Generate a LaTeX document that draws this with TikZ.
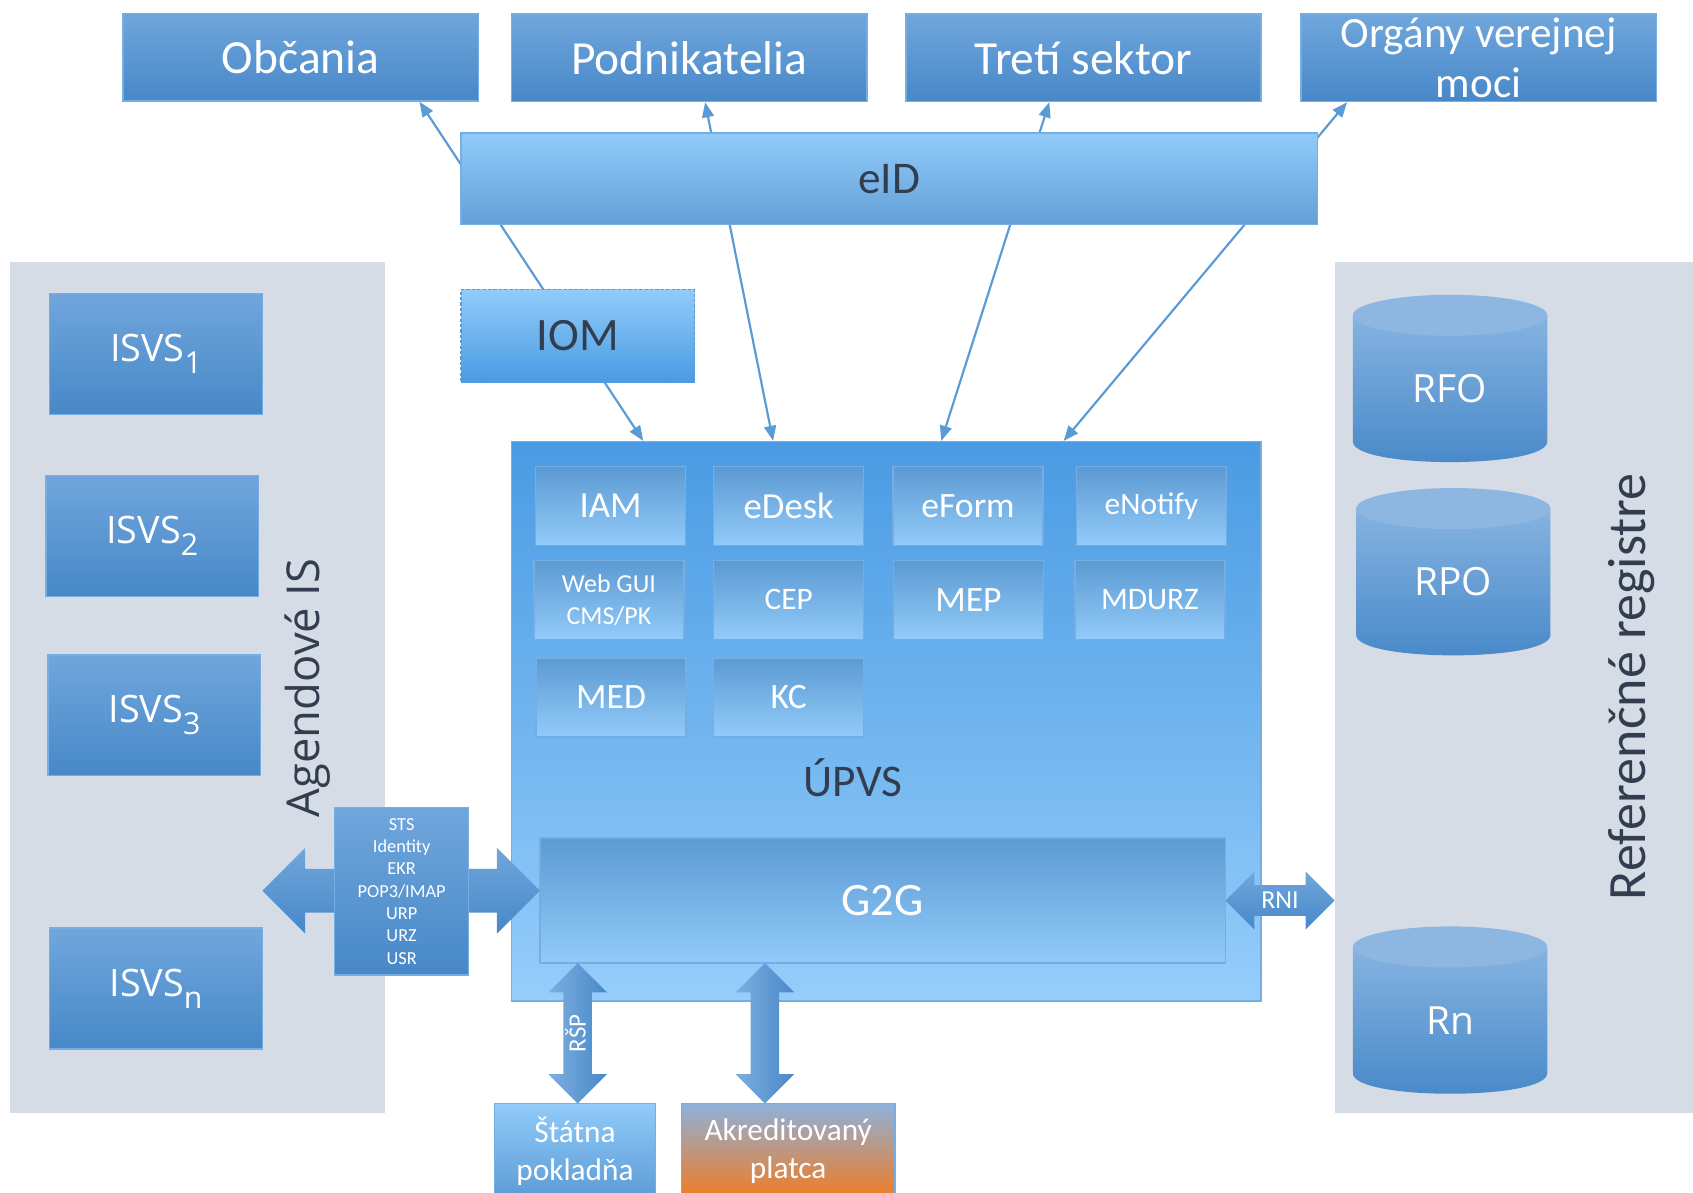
\documentclass[tikz,border=0pt]{standalone}
\usepackage{fontspec}
\setmainfont{Carlito}
\newfontfamily\opensans{Open Sans}
\usetikzlibrary{arrows.meta,shapes.arrows,calc}

\definecolor{boxtop}{HTML}{70A6DC}
\definecolor{boxbot}{HTML}{4788C8}
\definecolor{boxline}{HTML}{76AEE3}
\definecolor{lighttop}{HTML}{92CBFA}
\definecolor{midblue}{HTML}{5B9BD5}
\definecolor{upvstop}{HTML}{4A9BE3}
\definecolor{upvsbot}{HTML}{96CDFB}
\definecolor{subtop}{HTML}{5C9AD3}
\definecolor{subbot}{HTML}{92CBF9}
\definecolor{panelgray}{HTML}{D6DCE5}
\definecolor{darkslate}{HTML}{323E4F}
\definecolor{linkblue}{HTML}{5B9BD5}
\definecolor{capblue}{HTML}{8DB7E1}
\definecolor{platcatop}{HTML}{8DB2DA}
\definecolor{orangebot}{HTML}{F07B22}

\tikzset{
  topbox/.style={draw=boxline, line width=1.3pt, top color=boxtop, bottom color=boxbot,
    text=white, inner sep=0, minimum width=329, minimum height=81,
    font=\fontsize{44}{47}\selectfont},
  isvsbox/.style={draw=boxline, line width=1.3pt, top color=boxtop, bottom color=boxbot,
    text=white, inner sep=0, minimum width=197, minimum height=112,
    font=\opensans\fontsize{35}{40}\selectfont},
  subbox/.style={draw=boxline, line width=1.3pt, top color=subtop, bottom color=subbot,
    text=white, inner sep=0, minimum width=139, minimum height=73,
    font=\fontsize{32}{30}\selectfont},
  panel/.style={fill=panelgray, inner sep=0},
  link/.style={draw=linkblue, line width=2pt,
    {Triangle[length=14pt,width=11pt]}-{Triangle[length=14pt,width=11pt]}},
  blockarrow/.style={shape=double arrow, top color=boxtop, bottom color=boxbot,
    text=white, inner sep=0, double arrow tip angle=90},
  uparrow/.style={blockarrow, rotate=90, left color=boxtop!90!white, right color=boxbot,
    minimum height=130, minimum width=54, double arrow head extend=14},
  darklabel/.style={text=darkslate, font=\fontsize{42}{48}\selectfont}
}

% ISVS with a low subscript
\newcommand{\isvs}[1]{ISVS\raisebox{-11pt}{\fontsize{28}{30}\selectfont #1}}

% register cylinder: name, x centre, y top, text
\newcommand{\regcyl}[4]{%
  \path[top color=boxtop!85!white, bottom color=boxbot]
    (#2-90,#3+19) -- (#2-90,#3+136)
    .. controls (#2-90,#3+161.3) and (#2+90,#3+161.3) .. (#2+90,#3+136)
    -- (#2+90,#3+19) -- cycle;
  \fill[capblue] (#2,#3+19) ellipse [x radius=90, y radius=19];
  \node[text=white, font=\opensans\fontsize{36}{40}\selectfont] (#1) at (#2,#3+87) {#4};
}

\begin{document}
\begin{tikzpicture}[x=1pt, y=-1pt]
\useasboundingbox (0,0) rectangle (1568,1104);
\fill[white] (0,0) rectangle (1568,1104);
\clip (0,0) rectangle (1568,1104);

% Panels
\node[panel, minimum width=348, minimum height=788] (agpanel) at (183,637) {};
\node[panel, minimum width=344, minimum height=788] (regpanel) at (1408,637) {};

% Users
\node[topbox] (obcania) at (278.5,53) {Občania};
\node[topbox] (podnik) at (638.5,53.5) {Podnikatelia};
\node[topbox] (treti) at (1003.5,53.5) {Tretí sektor};
\node[topbox, align=center, font=\fontsize{40}{47}\selectfont] (organy) at (1369.5,53.5) {Orgány verejnej\\moci};

% UPVS
\node[draw=boxline, line width=1.3pt, top color=upvstop, bottom color=upvsbot,
  minimum width=694, minimum height=518] (upvs) at (821,668) {};

% Lines
\draw[link] ($(upvs.north west)!0.176!(upvs.north east)$) -- ($(obcania.south west)!0.833!(obcania.south east)$);
\draw[link] ($(upvs.north west)!0.349!(upvs.north east)$) -- ($(podnik.south west)!0.544!(podnik.south east)$);
\draw[link] ($(upvs.north west)!0.573!(upvs.north east)$) -- ($(treti.south west)!0.404!(treti.south east)$);
\draw[link] ($(upvs.north west)!0.736!(upvs.north east)$) -- ($(organy.south west)!0.131!(organy.south east)$);

% eID and IOM
\node[draw=boxline, line width=1.3pt, top color=lighttop, bottom color=midblue!95!white,
  minimum width=793, minimum height=85, darklabel] (eid) at (823.5,165.5) {eID};
\node[draw=linkblue, line width=1.3pt, densely dashed, top color=lighttop, bottom color=upvstop,
  minimum width=216, minimum height=86, darklabel, font=\fontsize{43}{48}\selectfont] (iom) at (535,311) {IOM};

% Agendove IS
\node[isvsbox] (isvs1) at (144.5,328) {\isvs{1}};
\node[isvsbox] (isvs2) at (141,496.5) {\isvs{2}};
\node[isvsbox] (isvs3) at (143,662.5) {\isvs{3}};
\node[isvsbox] (isvsn) at (144.5,915.5) {\isvs{n}};
\node[darklabel, rotate=90, font=\opensans\fontsize{42}{48}\selectfont] (agendove) at (285,637) {Agendové IS};

% Modules
\node[subbox, font=\fontsize{34}{36}\selectfont] (iam) at (565.5,468.5) {IAM};
\node[subbox, font=\fontsize{34}{36}\selectfont] (edesk) at (730.5,468.5) {eDesk};
\node[subbox, font=\fontsize{33}{36}\selectfont] (eform) at (896.5,468.5) {eForm};
\node[subbox, font=\fontsize{29}{36}\selectfont] (enotify) at (1066.5,468.5) {eNotify};
\node[subbox, align=center, font=\fontsize{24}{30}\selectfont] (webgui) at (564,555.5) {Web GUI\\CMS/PK};
\node[subbox, font=\fontsize{29}{36}\selectfont] (cep) at (730.5,555.5) {CEP};
\node[subbox, font=\fontsize{33}{36}\selectfont] (mep) at (897,555.5) {MEP};
\node[subbox, font=\fontsize{29}{36}\selectfont] (mdurz) at (1065,555.5) {MDURZ};
\node[subbox, font=\fontsize{33}{36}\selectfont] (med) at (566,646) {MED};
\node[subbox, font=\fontsize{33}{36}\selectfont] (kc) at (730.5,646) {KC};
\node[darklabel] (upvslabel) at (790,720) {ÚPVS};
\node[draw=boxline, line width=1.3pt, top color=subtop, bottom color=subbot, text=white,
  minimum width=635, minimum height=116, font=\fontsize{43}{48}\selectfont] (g2g) at (817.5,834) {G2G};

% Interfaces
\node[blockarrow, minimum height=257, minimum width=79, double arrow head extend=19.5,
  text height=20, text depth=20] (isarrow) at (371.5,825) {};
\node[draw=boxline, line width=1.3pt, top color=boxtop, bottom color=boxbot, text=white,
  minimum width=124, minimum height=155, inner sep=0, align=center,
  font=\fontsize{17}{20.7}\selectfont] (sts) at (372,825.5) {STS\\Identity\\EKR\\POP3/IMAP\\URP\\URZ\\USR};
\node[blockarrow, minimum height=101, minimum width=53, double arrow head extend=12.5,
  text height=21.7, text depth=6.3, font=\fontsize{24}{28}\selectfont] (rni) at (1185.5,834) {RNI};
\node[uparrow, text height=20.4, text depth=5.6, font=\fontsize{23}{28}\selectfont] (rsp) at (535,957) {RŠP};
\node[uparrow, text height=13, text depth=13] (platarrow) at (708.5,957) {};

% Payments
\node[draw=boxline, line width=1.3pt, top color=lighttop, bottom color=midblue, text=white,
  minimum width=149, minimum height=88, align=center, font=\fontsize{29}{35}\selectfont] (statna) at (532.5,1066) {Štátna\\pokladňa};
\node[draw=boxline, line width=1.3pt, top color=platcatop, bottom color=orangebot, text=white,
  minimum width=198, minimum height=88, align=center, font=\fontsize{29}{35}\selectfont] (platca) at (730,1066) {Akreditovaný\\platca};

% Registers
\regcyl{rfo}{1343}{273}{RFO}
\regcyl{rpo}{1346}{452}{RPO}
\regcyl{rn}{1343}{858}{Rn}
\node[darklabel, rotate=90, font=\fontsize{50}{56}\selectfont] (registre) at (1511,636) {Referenčné registre};
\end{tikzpicture}
\end{document}
